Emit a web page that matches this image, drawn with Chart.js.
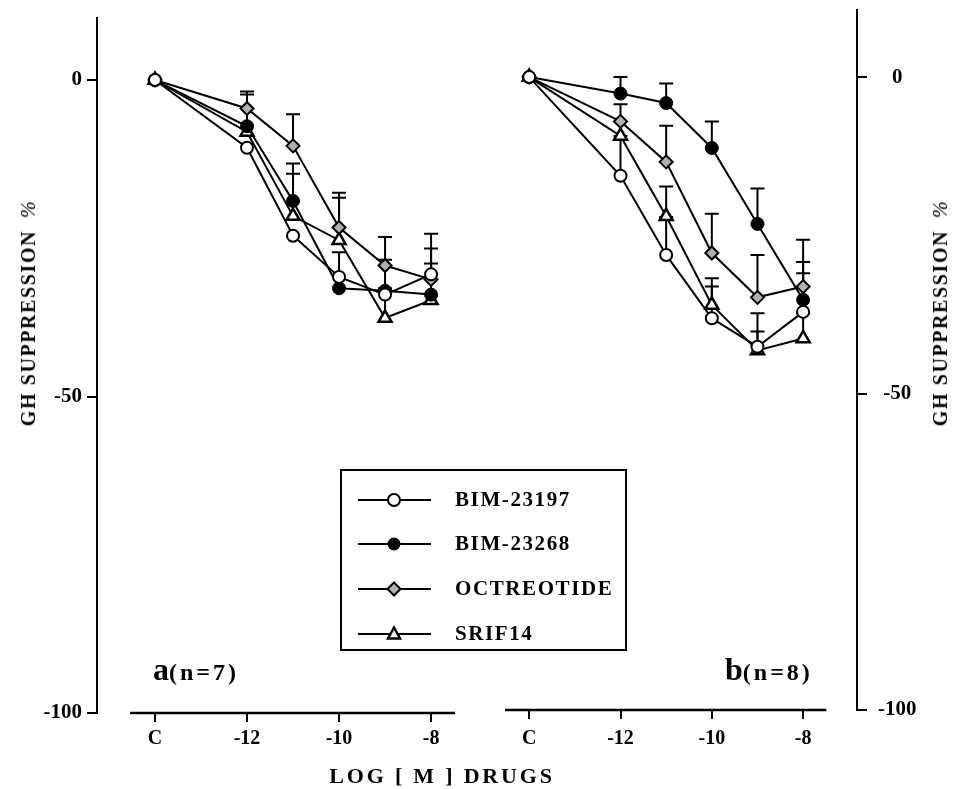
<!DOCTYPE html>
<html>
<head>
<meta charset="utf-8">
<script src="https://cdn.jsdelivr.net/npm/chart.js@4.4.0/dist/chart.umd.min.js"></script>
<style>
  body { margin: 0; background: #fff; width: 967px; height: 789px; position: relative; overflow: hidden;
         font-family: "Liberation Serif", "Times New Roman", serif; font-weight: bold; color: #000; }
  canvas { position: absolute; top: 0; }
  #chartA { left: 0; }
  #chartB { left: 490px; }
  .ytitle { position: absolute; font-size: 20px; letter-spacing: 1.6px; white-space: nowrap; line-height: 1;
            transform: translate(-50%, -50%) rotate(-90deg); }
  .ytitle .pct { font-weight: normal; font-style: italic; margin-left: 12px; }
  .xtitle { position: absolute; left: 442px; top: 765px; font-size: 22px; letter-spacing: 2.8px; line-height: 1;
            white-space: nowrap; transform: translateX(-50%); }
  .panel { position: absolute; top: 653px; font-size: 32px; line-height: 1; white-space: nowrap; }
  .panel span { font-size: 24px; letter-spacing: 3px; }
  #legend { position: absolute; left: 340px; top: 469px; width: 283px; height: 178px; border: 2px solid #000; }
  .row { position: absolute; left: 0; height: 20px; }
  .row svg { position: absolute; left: 15px; top: 0; }
  .row div { position: absolute; left: 113px; top: -1px; font-size: 21px; letter-spacing: 1.6px; line-height: 1; white-space: nowrap; }
</style>
</head>
<body>
<canvas id="chartA" width="490" height="789"></canvas>
<canvas id="chartB" width="477" height="789"></canvas>

<div class="ytitle" style="left:28px; top:313px;">GH SUPPRESSION<span class="pct">%</span></div>
<div class="ytitle" style="left:940px; top:313px;">GH SUPPRESSION<span class="pct">%</span></div>
<div class="xtitle">LOG [ M ] DRUGS</div>
<div class="panel" style="left:153px;">a<span>(n=7)</span></div>
<div class="panel" style="left:725px;">b<span>(n=8)</span></div>

<div id="legend">
  <div class="row" style="top:19px;">
    <svg width="76" height="20"><line x1="1" y1="10" x2="74" y2="10" stroke="#000" stroke-width="2"/><circle cx="37" cy="10" r="6" fill="#fff" stroke="#000" stroke-width="2"/></svg>
    <div>BIM-23197</div>
  </div>
  <div class="row" style="top:63px;">
    <svg width="76" height="20"><line x1="1" y1="10" x2="74" y2="10" stroke="#000" stroke-width="2"/><circle cx="37" cy="10" r="6.5" fill="#000"/></svg>
    <div>BIM-23268</div>
  </div>
  <div class="row" style="top:108px;">
    <svg width="76" height="20"><line x1="1" y1="10" x2="74" y2="10" stroke="#000" stroke-width="2"/><polygon points="37,3.5 43.5,10 37,16.5 30.5,10" fill="#b0b0b0" stroke="#000" stroke-width="2"/></svg>
    <div>OCTREOTIDE</div>
  </div>
  <div class="row" style="top:153px;">
    <svg width="76" height="20"><line x1="1" y1="10" x2="74" y2="10" stroke="#000" stroke-width="2"/><polygon points="37,3.5 43,14.5 31,14.5" fill="#fff" stroke="#000" stroke-width="2.5"/></svg>
    <div>SRIF14</div>
  </div>
</div>

<script>
// Eje X: -14 representa el control "C"
const doses = [-14, -12, -11, -10, -9, -8];
const xTicks = [-14, -12, -10, -8];
const yTicks = [0, -50, -100];
const seriesNames = ["BIM-23197", "BIM-23268", "OCTREOTIDE", "SRIF14"];

// Panel a (n=7)
const aBim23197 = [0, -10.7, -24.6, -31.1, -33.9, -30.7];
const aBim23268 = [0, -7.3, -19.1, -32.9, -33.3, -33.9];
const aOctreotide = [0, -4.5, -10.4, -23.3, -29.3, -31.5];
const aSrif14 = [0, -8.2, -21.5, -25.3, -37.6, -34.8];
// Barras de error (solo hacia arriba)
const aBim23197Err = [0, 0, 0, 3.9, 5.5, 6.4];
const aBim23268Err = [0, 5.0, 5.9, 0, 0, 4.9];
const aOctreotideErr = [0, 2.7, 5.0, 5.5, 4.5, 4.9];
const aSrif14Err = [0, 0, 6.7, 6.7, 4.7, 0];

// Panel b (n=8)
const bBim23197 = [0, -15.6, -28.1, -38.1, -42.6, -37.1];
const bBim23268 = [0, -2.6, -4.1, -11.2, -23.2, -35.2];
const bOctreotide = [0, -7.0, -13.4, -27.8, -34.8, -33.1];
const bSrif14 = [0, -9.3, -22.0, -36.0, -43.2, -41.3];
const bBim23197Err = [0, 6.3, 6.0, 5.0, 5.3, 7.9];
const bBim23268Err = [0, 2.6, 3.1, 4.2, 5.6, 4.2];
const bOctreotideErr = [0, 2.7, 5.7, 6.2, 6.7, 7.4];
const bSrif14Err = [0, 0, 4.7, 4.2, 3.0, 4.0];

const tickFont = { family: "Liberation Serif", weight: "bold", size: 21 };
const xFont = { family: "Liberation Serif", weight: "bold", size: 20 };

// Estilo de cada serie
const markerStyles = [
  { pointStyle: "circle", pointRadius: 6, pointBackgroundColor: "#fff", pointBorderWidth: 2 },
  { pointStyle: "circle", pointRadius: 6.5, pointBackgroundColor: "#000", pointBorderWidth: 1 },
  { pointStyle: "rectRot", pointRadius: 6.5, pointBackgroundColor: "#b0b0b0", pointBorderWidth: 2 },
  { pointStyle: "triangle", pointRadius: 7.5, pointBackgroundColor: "#fff", pointBorderWidth: 2.5 },
];

function buildDatasets(values, errors) {
  return values.map((serie, i) => Object.assign({
    label: seriesNames[i],
    data: doses.map((d, j) => ({ x: d, y: serie[j] })),
    errUp: errors[i],
    borderColor: "#000",
    borderWidth: 2,
    pointBorderColor: "#000",
    tension: 0,
    fill: false,
  }, markerStyles[i]));
}

// Dibujamos las barras de error con las escalas del chart
const errorBars = {
  id: "errorBars",
  beforeDatasetsDraw(chart) {
    const ctx = chart.ctx;
    const yScale = chart.scales.y;
    ctx.save();
    ctx.strokeStyle = "#000";
    ctx.lineWidth = 2;
    chart.data.datasets.forEach((ds, i) => {
      const meta = chart.getDatasetMeta(i);
      meta.data.forEach((pt, j) => {
        const e = ds.errUp[j];
        if (!e) return;
        const top = yScale.getPixelForValue(ds.data[j].y + e);
        ctx.beginPath();
        ctx.moveTo(pt.x, pt.y);
        ctx.lineTo(pt.x, top);
        ctx.moveTo(pt.x - 7, top);
        ctx.lineTo(pt.x + 7, top);
        ctx.stroke();
      });
    });
    ctx.restore();
  },
};

// Linea del eje X separada del eje Y
const xAxisLine = {
  id: "xAxisLine",
  afterDraw(chart, args, opts) {
    const ctx = chart.ctx;
    const xScale = chart.scales.x;
    const y = chart.chartArea.bottom;
    ctx.save();
    ctx.strokeStyle = "#000";
    ctx.lineWidth = 2.5;
    ctx.beginPath();
    ctx.moveTo(xScale.getPixelForValue(opts.from), y);
    ctx.lineTo(xScale.getPixelForValue(opts.to), y);
    ctx.stroke();
    ctx.restore();
  },
};

function createPanel(canvasId, datasets, cfg) {
  const ctx = document.getElementById(canvasId);
  return new Chart(ctx, {
    type: "line",
    data: { datasets: datasets },
    plugins: [errorBars, xAxisLine],
    options: {
      responsive: false,
      animation: false,
      devicePixelRatio: 1,
      layout: { padding: cfg.padding },
      plugins: {
        legend: { display: false },
        tooltip: { enabled: false },
        xAxisLine: { from: cfg.lineFrom, to: cfg.lineTo },
      },
      scales: {
        x: {
          type: "linear",
          min: cfg.xMin,
          max: cfg.xMax,
          afterBuildTicks: (s) => { s.ticks = xTicks.map((v) => ({ value: v })); },
          afterFit: (s) => { s.height = cfg.xHeight; s.paddingLeft = 0; s.paddingRight = 0; },
          border: { display: false },
          grid: { drawOnChartArea: false, tickLength: 9, color: "#000", lineWidth: 2 },
          ticks: {
            color: "#000", padding: cfg.xPad, maxRotation: 0, autoSkip: false, font: xFont,
            callback: (v) => (v === -14 ? "C" : String(v)),
          },
        },
        y: {
          position: cfg.yPos,
          min: -100,
          max: cfg.yMax,
          afterBuildTicks: (s) => { s.ticks = yTicks.map((v) => ({ value: v })); },
          afterFit: (s) => { s.width = cfg.yWidth; s.paddingTop = 0; s.paddingBottom = 0; },
          border: { display: true, color: "#000", width: 2 },
          grid: { drawOnChartArea: false, tickLength: 10, color: "#000", lineWidth: 2 },
          ticks: { color: "#000", padding: cfg.yPad, crossAlign: cfg.yAlign, font: tickFont },
        },
      },
    },
  });
}

// Panel a
createPanel("chartA",
  buildDatasets([aBim23197, aBim23268, aOctreotide, aSrif14],
                [aBim23197Err, aBim23268Err, aOctreotideErr, aSrif14Err]),
  {
    padding: { top: 18, left: 0, right: 35, bottom: 0 },
    xMin: -15.26, xMax: -7.48, xHeight: 76, xPad: 5,
    lineFrom: -14.54, lineTo: -7.48,
    yPos: "left", yMax: 9.8, yWidth: 97, yPad: 5, yAlign: "near",
  });

// Panel b
createPanel("chartB",
  buildDatasets([bBim23197, bBim23268, bOctreotide, bSrif14],
                [bBim23197Err, bBim23268Err, bOctreotideErr, bSrif14Err]),
  {
    padding: { top: 10, left: 15, right: 0, bottom: 0 },
    xMin: -14.53, xMax: -6.82, xHeight: 79, xPad: 8,
    lineFrom: -14.53, lineTo: -7.49,
    yPos: "right", yMax: 10.6, yWidth: 110, yPad: 11, yAlign: "center",
  });
</script>
</body>
</html>
